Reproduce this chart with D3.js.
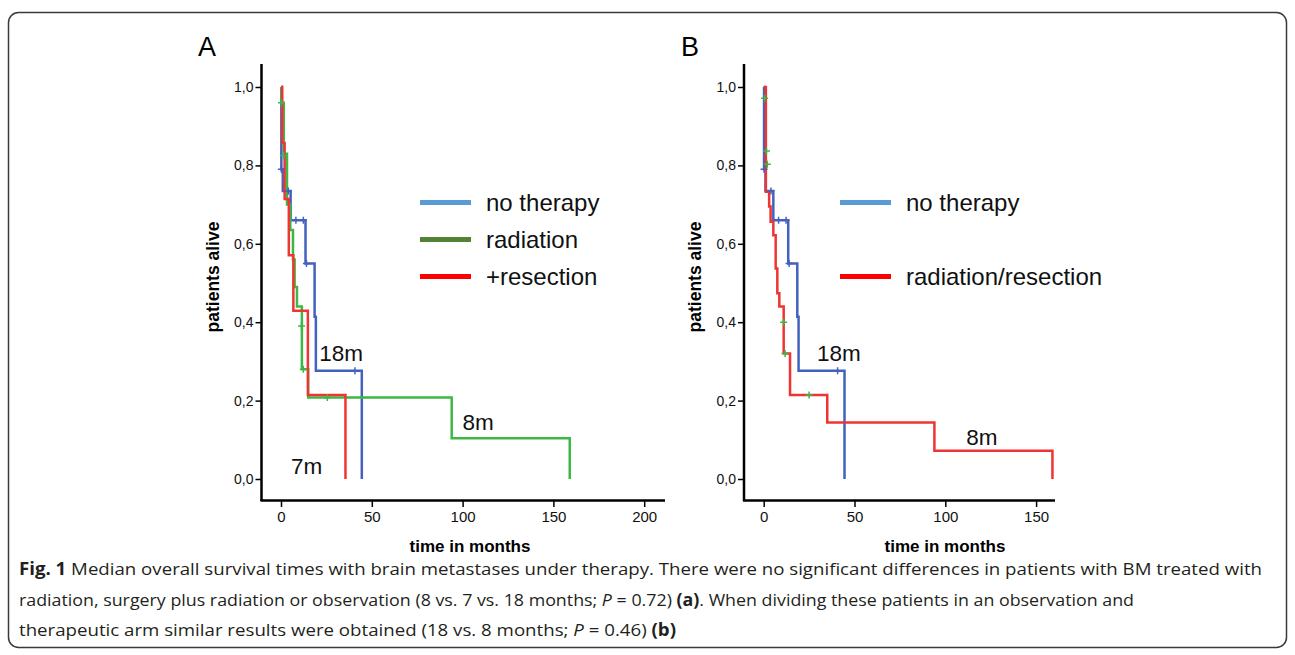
<!DOCTYPE html>
<html>
<head>
<meta charset="utf-8">
<script src="https://cdn.jsdelivr.net/npm/d3@7"></script>
<style>
  html, body { margin: 0; padding: 0; background: #fff; }
  svg text { font-family: "Liberation Sans", Arial, sans-serif; }
</style>
</head>
<body>
<div id="chart"></div>
<script>
// Kaplan-Meier steps (time in months, share alive)
var noTherapyT = [0, 0.2, 1, 5.3, 13.5, 18.5, 19.2, 44.5];
var noTherapyS = [1, 0.79, 0.735, 0.66, 0.55, 0.414, 0.276, 0];
var noTherapyCensT = [0.2, 4, 8.2, 12.3, 14, 40.7];
var noTherapyCensS = [0.79, 0.735, 0.66, 0.66, 0.55, 0.276];

var radiationT = [0, 0.3, 1.5, 3.3, 5.1, 6.6, 7.5, 8.8, 11.5, 15, 94, 159];
var radiationS = [1, 0.96, 0.83, 0.70, 0.635, 0.56, 0.49, 0.44, 0.28, 0.208, 0.104, 0];
var radiationCensT = [0.3, 1.5, 11.3, 12.3, 25.5];
var radiationCensS = [0.96, 0.825, 0.39, 0.28, 0.208];

var resectionT = [0, 0.7, 2, 4.3, 6.8, 14.8, 35.5];
var resectionS = [1, 0.857, 0.714, 0.571, 0.429, 0.214, 0];

var treatedT = [0, 1.2, 3, 3.8, 5.3, 6.6, 7.5, 8.6, 11, 14.5, 35, 94, 159];
var treatedS = [1, 0.733, 0.695, 0.656, 0.622, 0.537, 0.474, 0.44, 0.32, 0.214, 0.144, 0.072, 0];
var treatedCensT = [0.5, 1.5, 2, 11, 11.8, 25];
var treatedCensS = [0.971, 0.837, 0.803, 0.40, 0.32, 0.214];

var xTicksA = [0, 50, 100, 150, 200];
var xTicksB = [0, 50, 100, 150];
var yTicks = [0, 0.2, 0.4, 0.6, 0.8, 1.0];

var legendA = ["no therapy", "radiation", "+resection"];
var legendB = ["no therapy", "radiation/resection"];

var medianA = [["18m", 21, 0.30], ["8m", 100, 0.125], ["7m", 5.5, 0.013]];
var medianB = [["18m", 29.4, 0.30], ["8m", 111.5, 0.087]];

var blueLine = "#4262bd", greenLine = "#3cb843", redLine = "#ef3434";
var blueKey = "#5b9bd5", greenKey = "#548235", redKey = "#ff0000";

var width = 1295, height = 655;

var svg = d3.select("#chart").append("svg")
    .attr("width", width)
    .attr("height", height);

svg.append("rect")
    .attr("x", 8.5).attr("y", 12.5)
    .attr("width", 1278).attr("height", 635)
    .attr("rx", 10)
    .attr("fill", "none")
    .attr("stroke", "#3a3a3a")
    .attr("stroke-width", 1.5);

var y = d3.scaleLinear().domain([0, 1]).range([479, 87]);

function zip(ts, ss) {
  return ts.map(function(t, i) { return [t, ss[i]]; });
}

function panel(opt) {
  var x = d3.scaleLinear().domain([0, 50]).range([opt.x0, opt.x0 + 90.8]);
  var g = svg.append("g");

  // axes
  g.append("line")
      .attr("x1", opt.axisX).attr("x2", opt.axisX)
      .attr("y1", 64).attr("y2", 501)
      .attr("stroke", "#000").attr("stroke-width", 2.5);
  g.append("line")
      .attr("x1", opt.axisX - 1).attr("x2", opt.axisEnd)
      .attr("y1", 500.5).attr("y2", 500.5)
      .attr("stroke", "#000").attr("stroke-width", 2.5);

  var xa = g.append("g")
      .attr("transform", "translate(0,501)")
      .call(d3.axisBottom(x).tickValues(opt.xTicks).tickSize(6).tickPadding(4).tickFormat(d3.format("d")));
  xa.select(".domain").remove();
  xa.selectAll("line").attr("stroke", "#000").attr("stroke-width", 1.5);
  xa.selectAll("text").attr("font-size", 15).attr("fill", "#111")
      .style("font-family", "'Liberation Sans', Arial, sans-serif");

  var ya = g.append("g")
      .attr("transform", "translate(" + opt.axisX + ",0)")
      .call(d3.axisLeft(y).tickValues(yTicks).tickSize(6).tickPadding(2)
        .tickFormat(function(d) { return d3.format(".1f")(d).replace(".", ","); }));
  ya.select(".domain").remove();
  ya.selectAll("line").attr("stroke", "#000").attr("stroke-width", 1.5);
  ya.selectAll("text").attr("font-size", 14).attr("fill", "#111")
      .style("font-family", "'Liberation Sans', Arial, sans-serif");

  g.append("text")
      .attr("x", opt.titleX).attr("y", 552)
      .attr("text-anchor", "middle")
      .attr("font-size", 17).attr("font-weight", "bold")
      .text("time in months");
  g.append("text")
      .attr("transform", "translate(" + (opt.axisX - 43) + ",277)rotate(-90)")
      .attr("text-anchor", "middle")
      .attr("font-size", 17.5).attr("font-weight", "bold")
      .text("patients alive");
  g.append("text")
      .attr("x", opt.letterX).attr("y", 56)
      .attr("font-size", 27)
      .text(opt.letter);

  var line = d3.line()
      .curve(d3.curveStepAfter)
      .x(function(d) { return x(d[0]); })
      .y(function(d) { return y(d[1]); });

  opt.curves.forEach(function(c) {
    g.append("path")
        .attr("d", line(zip(c.t, c.s)))
        .attr("fill", "none")
        .attr("stroke", c.color)
        .attr("stroke-width", 2.5);
  });

  opt.censors.forEach(function(c) {
    zip(c.t, c.s).forEach(function(d) {
      var cx = x(d[0]), cy = y(d[1]);
      g.append("path")
          .attr("d", "M" + (cx - 3.5) + "," + cy + "H" + (cx + 3.5) + "M" + cx + "," + (cy - 3.5) + "V" + (cy + 3.5))
          .attr("stroke", c.color)
          .attr("stroke-width", 1.5);
    });
  });

  opt.legend.forEach(function(name, i) {
    var ly = opt.legendY[i];
    g.append("line")
        .attr("x1", opt.legendX).attr("x2", opt.legendX + 51)
        .attr("y1", ly).attr("y2", ly)
        .attr("stroke", opt.legendColors[i])
        .attr("stroke-width", 5);
    g.append("text")
        .attr("x", opt.legendX + 66).attr("y", ly + 8)
        .attr("font-size", 24)
        .attr("fill", "#111")
        .text(name);
  });

  opt.medians.forEach(function(m) {
    g.append("text")
        .attr("x", x(m[1])).attr("y", y(m[2]))
        .attr("font-size", 22.5)
        .attr("fill", "#111")
        .text(m[0]);
  });
}

panel({
  letter: "A", letterX: 198,
  x0: 281, axisX: 261.5, axisEnd: 665, titleX: 470,
  xTicks: xTicksA,
  curves: [
    {t: noTherapyT, s: noTherapyS, color: blueLine},
    {t: radiationT, s: radiationS, color: greenLine},
    {t: resectionT, s: resectionS, color: redLine}
  ],
  censors: [
    {t: noTherapyCensT, s: noTherapyCensS, color: blueLine},
    {t: radiationCensT, s: radiationCensS, color: greenLine}
  ],
  legend: legendA, legendX: 420, legendY: [202.5, 239.5, 276.5],
  legendColors: [blueKey, greenKey, redKey],
  medians: medianA
});

panel({
  letter: "B", letterX: 681,
  x0: 763.7, axisX: 744, axisEnd: 1055, titleX: 945,
  xTicks: xTicksB,
  curves: [
    {t: noTherapyT, s: noTherapyS, color: blueLine},
    {t: treatedT, s: treatedS, color: redLine}
  ],
  censors: [
    {t: noTherapyCensT, s: noTherapyCensS, color: blueLine},
    {t: treatedCensT, s: treatedCensS, color: greenLine}
  ],
  legend: legendB, legendX: 840, legendY: [202.5, 276.5],
  legendColors: [blueKey, redKey],
  medians: medianB
});

// caption
var capFont = "'Open Sans', 'Noto Sans', sans-serif";
var capLines = [
  {y: 575, len: 1243, parts: [
    ["Fig. 1", "bold", "normal"],
    [" Median overall survival times with brain metastases under therapy. There were no significant differences in patients with BM treated with", "normal", "normal"]
  ]},
  {y: 606, len: 1115, parts: [
    ["radiation, surgery plus radiation or observation (8 vs. 7 vs. 18 months; ", "normal", "normal"],
    ["P", "normal", "italic"],
    [" = 0.72) ", "normal", "normal"],
    ["(a)", "bold", "normal"],
    [". When dividing these patients in an observation and", "normal", "normal"]
  ]},
  {y: 636, len: 657, parts: [
    ["therapeutic arm similar results were obtained (18 vs. 8 months; ", "normal", "normal"],
    ["P", "normal", "italic"],
    [" = 0.46) ", "normal", "normal"],
    ["(b)", "bold", "normal"]
  ]}
];

capLines.forEach(function(l) {
  var t = svg.append("text")
      .attr("x", 19).attr("y", l.y)
      .attr("font-size", 17)
      .attr("fill", "#231f20")
      .attr("textLength", l.len)
      .attr("lengthAdjust", "spacingAndGlyphs")
      .style("font-family", capFont);
  l.parts.forEach(function(p) {
    t.append("tspan")
        .attr("font-weight", p[1])
        .attr("font-style", p[2])
        .text(p[0]);
  });
});
</script>
</body>
</html>
